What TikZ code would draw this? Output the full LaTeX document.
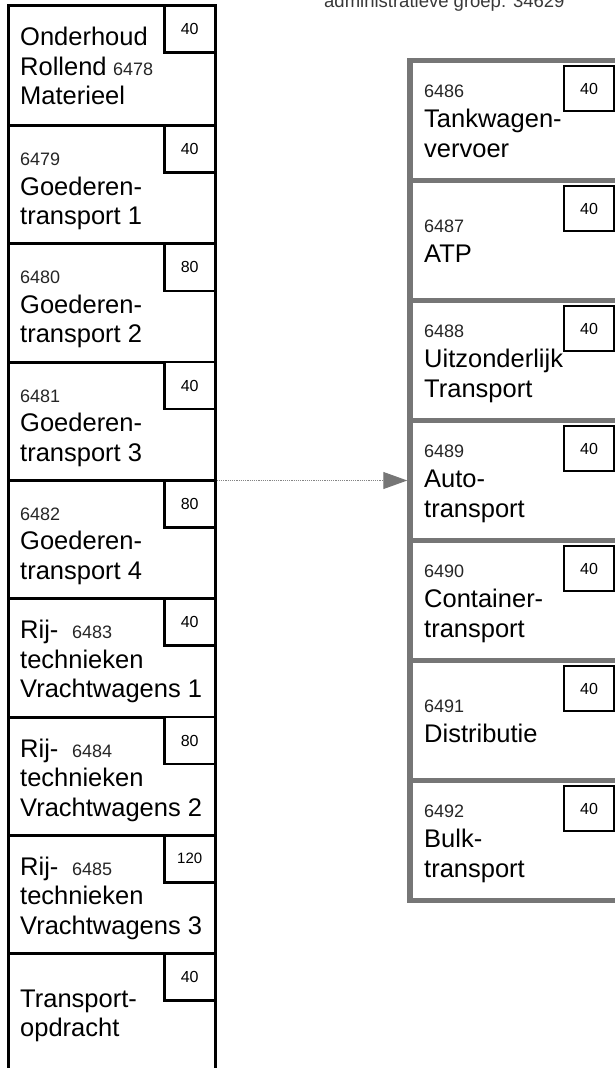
\documentclass[tikz,border=0pt]{standalone}
\usepackage{fontspec}
\setmainfont{Liberation Sans}
\usetikzlibrary{arrows.meta}
\definecolor{band}{HTML}{767676}
\definecolor{linkgray}{HTML}{858585}
\definecolor{titlegray}{HTML}{383838}
\tikzset{
  big/.style={font=\fontsize{25.5}{30}\selectfont, anchor=base west, inner sep=0pt},
  small/.style={font=\fontsize{18}{20}\selectfont, anchor=base west, inner sep=0pt, text=black!85},
  scoreL/.style={draw=black, line width=2.5pt, minimum width=50.5pt, minimum height=47pt, inner sep=0pt, fill=white, font=\fontsize{16}{18}\selectfont},
  scoreR/.style={draw=black, line width=2pt, minimum width=50pt, minimum height=45pt, inner sep=0pt, fill=white, font=\fontsize{16}{18}\selectfont},
  leftframe/.style={draw=black, line width=3pt, inner sep=0pt},
  rightframe/.style={draw=band, line width=5.5pt, inner sep=0pt},
  leftdiv/.style={draw=black, line width=3pt},
  rightdiv/.style={draw=band, line width=5.5pt},
  link/.style={draw=linkgray, line width=1pt, dash pattern=on 1.2pt off 1pt,
    -{Triangle[length=24pt,width=17pt,color=band]}},
  titletext/.style={font=\fontsize{18.5}{21}\selectfont, text=titlegray, anchor=base west, inner sep=0pt}
}
\begin{document}
\begin{tikzpicture}[x=1pt,y=-1pt]
\useasboundingbox (0,0) rectangle (615,1068);

% title (cut off at the top edge, as in the reference)
\node[titletext] (title) at (324,7.5) {administratieve groep: 34629};

% left column frame
\node[leftframe, minimum width=206.5pt, minimum height=1072.5pt] (leftcol) at (111.75,541.75) {};
\foreach \y in {125.5,243.8,362.1,480.4,598.7,717,835.3,953.6}
  \draw[leftdiv] (8.5,\y) -- (215,\y);

% right column frame
\node[rightframe, minimum width=210pt, minimum height=840pt] (rightcol) at (515,480.5) {};
\foreach \y in {180.5,300.5,420.5,540.5,660.5,780.5}
  \draw[rightdiv] (410,\y) -- (620,\y);

% left score boxes
\node[scoreL] (sl0) at (189.75,29) {40};
\node[scoreL] (sl1) at (189.75,149) {40};
\node[scoreL] (sl2) at (189.75,267.3) {80};
\node[scoreL] (sl3) at (189.75,385.6) {40};
\node[scoreL] (sl4) at (189.75,503.9) {80};
\node[scoreL] (sl5) at (189.75,622.2) {40};
\node[scoreL] (sl6) at (189.75,740.5) {80};
\node[scoreL, font=\fontsize{15}{17}\selectfont] (sl7) at (189.75,858.8) {120};
\node[scoreL] (sl8) at (189.75,977.1) {40};

% left texts
\node[big] (t0a) at (20,45.5) {Onderhoud};
\node[big] (t0b) at (20,75) {Rollend};
\node[small] (t0n) at (113,75) {6478};
\node[big] (t0c) at (20,104.5) {Materieel};

\node[small] (t1n) at (20,165.5) {6479};
\node[big] (t1a) at (20,195) {Goederen-};
\node[big] (t1b) at (20,224.5) {transport 1};

\node[small] (t2n) at (20,283.8) {6480};
\node[big] (t2a) at (20,313.3) {Goederen-};
\node[big] (t2b) at (20,342.8) {transport 2};

\node[small] (t3n) at (20,402.1) {6481};
\node[big] (t3a) at (20,431.6) {Goederen-};
\node[big] (t3b) at (20,461.1) {transport 3};

\node[small] (t4n) at (20,520.4) {6482};
\node[big] (t4a) at (20,549.9) {Goederen-};
\node[big] (t4b) at (20,579.4) {transport 4};

\node[big] (t5a) at (20,638.7) {Rij-};
\node[small] (t5n) at (72,638.7) {6483};
\node[big] (t5b) at (20,668.2) {technieken};
\node[big] (t5c) at (20,697.7) {Vrachtwagens 1};

\node[big] (t6a) at (20,757) {Rij-};
\node[small] (t6n) at (72,757) {6484};
\node[big] (t6b) at (20,786.5) {technieken};
\node[big] (t6c) at (20,816) {Vrachtwagens 2};

\node[big] (t7a) at (20,875.3) {Rij-};
\node[small] (t7n) at (72,875.3) {6485};
\node[big] (t7b) at (20,904.8) {technieken};
\node[big] (t7c) at (20,934.3) {Vrachtwagens 3};

\node[big] (t8a) at (20,1007.6) {Transport-};
\node[big] (t8b) at (20,1036.1) {opdracht};

% right score boxes
\node[scoreR] (sr0) at (589,88.5) {40};
\node[scoreR] (sr1) at (589,208.5) {40};
\node[scoreR] (sr2) at (589,328.5) {40};
\node[scoreR] (sr3) at (589,448.5) {40};
\node[scoreR] (sr4) at (589,568.5) {40};
\node[scoreR] (sr5) at (589,688.5) {40};
\node[scoreR] (sr6) at (589,808.5) {40};

% right texts
\node[small] (r0n) at (424,97.5) {6486};
\node[big] (r0a) at (424,127.5) {Tankwagen-};
\node[big] (r0b) at (424,157.5) {vervoer};

\node[small] (r1n) at (424,232.5) {6487};
\node[big] (r1a) at (424,262.5) {ATP};

\node[small] (r2n) at (424,337.5) {6488};
\node[big] (r2a) at (424,367.5) {Uitzonderlijk};
\node[big] (r2b) at (424,397.5) {Transport};

\node[small] (r3n) at (424,457.5) {6489};
\node[big] (r3a) at (424,487.5) {Auto-};
\node[big] (r3b) at (424,517.5) {transport};

\node[small] (r4n) at (424,577.5) {6490};
\node[big] (r4a) at (424,607.5) {Container-};
\node[big] (r4b) at (424,637.5) {transport};

\node[small] (r5n) at (424,712.5) {6491};
\node[big] (r5a) at (424,742.5) {Distributie};

\node[small] (r6n) at (424,817.5) {6492};
\node[big] (r6a) at (424,847.5) {Bulk-};
\node[big] (r6b) at (424,877.5) {transport};

% connector
\draw[link] (leftcol.east |- rightcol.west) -- (rightcol.west);
\end{tikzpicture}
\end{document}
